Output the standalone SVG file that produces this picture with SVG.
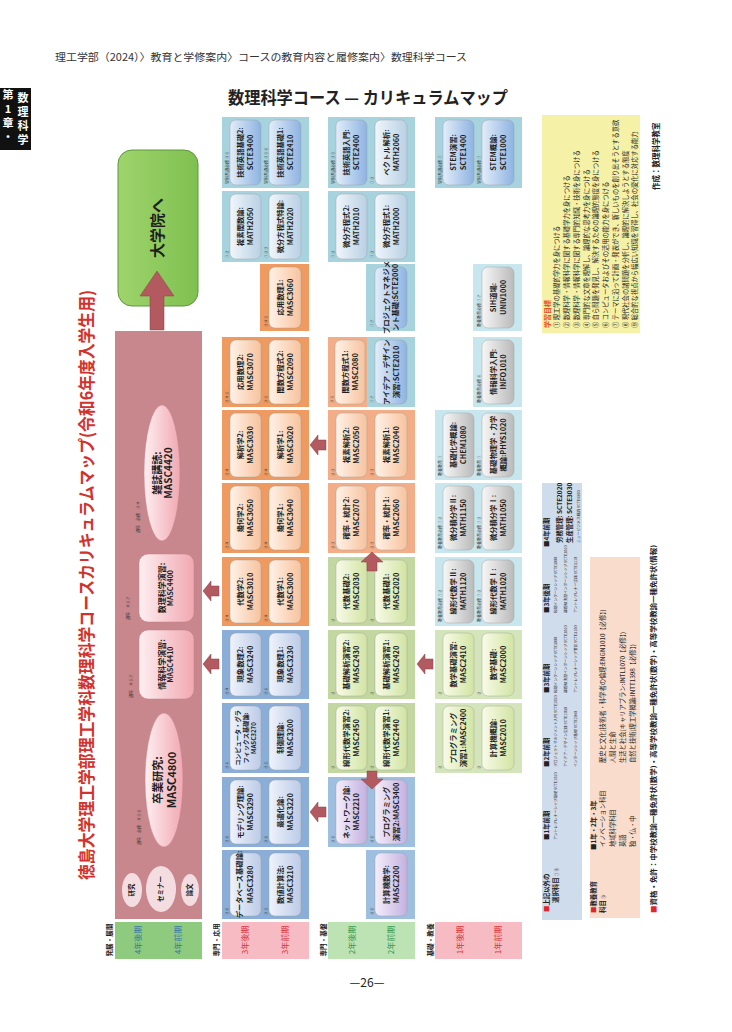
<svg xmlns="http://www.w3.org/2000/svg" width="732" height="1032" viewBox="0 0 732 1032">
<defs>
<linearGradient id="gOr" x1="0" y1="0" x2="1" y2="0"><stop offset="0" stop-color="#fff2e8"/><stop offset="1" stop-color="#f7c39e"/></linearGradient>
<linearGradient id="gBl" x1="0" y1="0" x2="1" y2="0"><stop offset="0" stop-color="#eff3fb"/><stop offset="1" stop-color="#bccbe7"/></linearGradient>
<linearGradient id="gSc" x1="0" y1="0" x2="1" y2="0"><stop offset="0" stop-color="#e2edf9"/><stop offset="1" stop-color="#8eb3e1"/></linearGradient>
<linearGradient id="gMa" x1="0" y1="0" x2="1" y2="0"><stop offset="0" stop-color="#f0f6fb"/><stop offset="1" stop-color="#b9d0e4"/></linearGradient>
<linearGradient id="gGy" x1="0" y1="0" x2="1" y2="0"><stop offset="0" stop-color="#f7f7f7"/><stop offset="1" stop-color="#bababa"/></linearGradient>
<linearGradient id="gGr" x1="0" y1="0" x2="1" y2="0"><stop offset="0" stop-color="#f8fbe8"/><stop offset="1" stop-color="#d2e4a3"/></linearGradient>
<linearGradient id="gPu" x1="0" y1="0" x2="1" y2="0"><stop offset="0" stop-color="#f4eefb"/><stop offset="1" stop-color="#c4b1df"/></linearGradient>
<linearGradient id="gPk" x1="0" y1="0" x2="1" y2="0"><stop offset="0" stop-color="#fdeff1"/><stop offset="1" stop-color="#f1a8b1"/></linearGradient>
<linearGradient id="gGo" x1="0" y1="0" x2="1" y2="0"><stop offset="0" stop-color="#9fd46c"/><stop offset="1" stop-color="#7fc050"/></linearGradient>
</defs>
<style>
text{font-family:'Noto Sans CJK JP','Noto Sans',sans-serif}
.t{font-size:7.3px;font-weight:700;fill:#1e1e1e;text-anchor:middle}
.t6{font-size:6.2px;font-weight:700;fill:#1e1e1e;text-anchor:middle}
.lb{font-size:4px;fill:#333}
.ib{stroke:#9a9a9a;stroke-width:0.4}
.or{fill:#ef9a60}.or2{fill:#f3ae88}.bl{fill:#8aaed7}.bl2{fill:#9fbfe1}
.lbg{fill:#a7d3df}.lc{fill:#c8e6ee}.gr{fill:#c3d8a1}.gr1{fill:#d4e5bc}
.arr{fill:#b25a60;stroke:#8e3f45;stroke-width:0.5}
.per{font-size:8px;text-anchor:middle}
.cat{font-size:6.6px;font-weight:700;fill:#222;text-anchor:middle}
.lg{font-size:6.4px;font-weight:700;fill:#222}
.lt{font-size:3.8px;fill:#333}
.ob{font-size:6.3px;fill:#222}
</style>
<rect width="732" height="1032" fill="#ffffff"/>

<!-- page header -->
<text x="55" y="61" font-size="10.5" fill="#333" textLength="412" lengthAdjust="spacingAndGlyphs">理工学部（2024）〉教育と学修案内〉コースの教育内容と履修案内〉数理科学コース</text>
<g id="sidebar">
<rect x="0" y="88" width="31" height="62" fill="#111"/>
<g font-size="11" font-weight="700" fill="#fff" text-anchor="middle">
<text x="8" y="99">第</text><text x="8" y="113">1</text><text x="8" y="127">章</text><text x="8" y="141">・</text>
<text x="23" y="102">数</text><text x="23" y="116">理</text><text x="23" y="130">科</text><text x="23" y="144">学</text>
</g>
</g>
<text x="228" y="104" font-size="17" font-weight="700" fill="#222" textLength="280" lengthAdjust="spacingAndGlyphs">数理科学コース — カリキュラムマップ</text>
<text transform="translate(93,880) rotate(-90)" font-size="17" font-weight="700" fill="#d2322d" textLength="590" lengthAdjust="spacingAndGlyphs">徳島大学理工学部理工学科数理科学コースカリキュラムマップ(令和6年度入学生用)</text>

<!-- group backgrounds -->
<g id="backgrounds">
<rect x="115" y="331" width="87" height="588" fill="#c8878c"/>
<rect class="lbg" x="222" y="117" width="87" height="71"/>
<rect class="lbg" x="222" y="191" width="87" height="71"/>
<rect class="or" x="260" y="264" width="49" height="67"/>
<rect class="or" x="222" y="337" width="87" height="70"/>
<rect class="or" x="222" y="410" width="87" height="70"/>
<rect class="or" x="222" y="483" width="87" height="70"/>
<rect class="or" x="222" y="557" width="87" height="69"/>
<rect class="bl" x="222" y="630" width="87" height="69"/>
<rect class="bl" x="222" y="703" width="87" height="70"/>
<rect class="bl" x="222" y="777" width="87" height="70"/>
<rect class="bl" x="222" y="850" width="87" height="69"/>
<rect class="lbg" x="328" y="117" width="87" height="71"/>
<rect class="lbg" x="328" y="191" width="87" height="71"/>
<rect class="lbg" x="366" y="264" width="49" height="67"/>
<rect class="or2" x="328" y="337" width="39" height="70"/>
<rect class="lbg" x="367" y="337" width="48" height="70"/>
<rect class="or2" x="328" y="410" width="87" height="70"/>
<rect class="or2" x="328" y="483" width="87" height="70"/>
<rect class="gr" x="328" y="557" width="87" height="69"/>
<rect class="gr" x="328" y="630" width="87" height="69"/>
<rect class="gr" x="328" y="703" width="87" height="70"/>
<rect class="bl2" x="328" y="777" width="87" height="70"/>
<rect class="bl2" x="366" y="850" width="49" height="69"/>
<rect class="lbg" x="435" y="117" width="87" height="71"/>
<rect class="lc" x="473" y="264" width="49" height="67"/>
<rect class="lc" x="473" y="337" width="49" height="70"/>
<rect class="lc" x="435" y="410" width="87" height="70"/>
<rect class="lc" x="435" y="483" width="87" height="70"/>
<rect class="lc" x="435" y="557" width="87" height="69"/>
<rect class="gr1" x="435" y="630" width="87" height="69"/>
<rect class="gr1" x="435" y="703" width="87" height="70"/>
</g>

<!-- period row -->
<g id="periods">
<rect x="115" y="922" width="87" height="37" fill="#8fcb7f"/>
<rect x="222" y="922" width="87" height="37" fill="#f7bcc3"/>
<rect x="328" y="922" width="87" height="37" fill="#bde2b3"/>
<rect x="435" y="922" width="87" height="37" fill="#f7bcc3"/>
<text class="cat" transform="translate(111.5,940) rotate(-90)">発展・展開</text>
<text class="cat" transform="translate(218.5,940) rotate(-90)">専門・応用</text>
<text class="cat" transform="translate(325.5,940) rotate(-90)">専門・基盤</text>
<text class="cat" transform="translate(432.5,940) rotate(-90)">基礎・教養</text>
<text class="per" fill="#3a7aa6" transform="translate(141,940) rotate(-90)">4年後期</text>
<text class="per" fill="#3a7aa6" transform="translate(181,940) rotate(-90)">4年前期</text>
<text class="per" fill="#d8343a" transform="translate(248,940) rotate(-90)">3年後期</text>
<text class="per" fill="#d8343a" transform="translate(288,940) rotate(-90)">3年前期</text>
<text class="per" fill="#3c9a50" transform="translate(355,940) rotate(-90)">2年後期</text>
<text class="per" fill="#3c9a50" transform="translate(394,940) rotate(-90)">2年前期</text>
<text class="per" fill="#d8343a" transform="translate(463,940) rotate(-90)">1年後期</text>
<text class="per" fill="#d8343a" transform="translate(501,940) rotate(-90)">1年前期</text>
</g>

<!-- 4th year -->
<g id="n-grad">
<rect x="118" y="150" width="80" height="156" rx="14" fill="url(#gGo)" stroke="#5f9640" stroke-width="1"/>
<text transform="translate(163,228) rotate(-90)" font-size="15" font-weight="700" fill="#1e1e1e" text-anchor="middle">大学院へ</text>
</g>
<g id="n-masc4420">
<ellipse cx="162" cy="473" rx="18" ry="68" fill="url(#gPk)" stroke="#c77d86" stroke-width="0.5"/>
<text transform="translate(160.5,473) rotate(-90)" font-size="10" font-weight="700" fill="#1e1e1e" text-anchor="middle">雑誌講読:</text>
<text transform="translate(172,473) rotate(-90)" font-size="10" font-weight="700" fill="#1e1e1e" text-anchor="middle">MASC4420</text>
<text class="lb" font-size="4.5" transform="translate(140,533) rotate(-90)">通年　必修　③④</text>
</g>
<g id="n-masc4400">
<rect x="139" y="554" width="55" height="68" rx="9" fill="url(#gPk)" stroke="#c77d86" stroke-width="0.5"/>
<text transform="translate(164.8,588) rotate(-90)" font-size="8" font-weight="700" fill="#1e1e1e" text-anchor="middle">数理科学演習:</text>
<text transform="translate(173,588) rotate(-90)" font-size="7" font-weight="700" fill="#1e1e1e" text-anchor="middle">MASC4400</text>
<text class="lb" font-size="4.5" transform="translate(130,620) rotate(-90)">通年　④⑤⑦</text>
</g>
<g id="n-masc4410">
<rect x="139" y="630" width="55" height="69" rx="9" fill="url(#gPk)" stroke="#c77d86" stroke-width="0.5"/>
<text transform="translate(164.8,664.5) rotate(-90)" font-size="8" font-weight="700" fill="#1e1e1e" text-anchor="middle">情報科学演習:</text>
<text transform="translate(173,664.5) rotate(-90)" font-size="7" font-weight="700" fill="#1e1e1e" text-anchor="middle">MASC4410</text>
<text class="lb" font-size="4.5" transform="translate(133,698) rotate(-90)">通年　④⑤⑦</text>
</g>
<g id="n-masc4800">
<ellipse cx="164" cy="780" rx="19" ry="67" fill="url(#gPk)" stroke="#c77d86" stroke-width="0.5"/>
<text transform="translate(162,780) rotate(-90)" font-size="11" font-weight="700" fill="#1e1e1e" text-anchor="middle">卒業研究:</text>
<text transform="translate(176,780) rotate(-90)" font-size="11" font-weight="700" fill="#1e1e1e" text-anchor="middle">MASC4800</text>
<text class="lb" font-size="4.5" transform="translate(141,845) rotate(-90)">通年　必修　④⑤⑧</text>
</g>
<g id="n-kenkyu">
<ellipse cx="132" cy="890" rx="10" ry="17" fill="#f3dde1"/>
<text transform="translate(134.3,890) rotate(-90)" font-size="6.5" font-weight="700" fill="#222" text-anchor="middle">研究</text>
</g>
<g id="n-seminar">
<ellipse cx="161" cy="889" rx="15" ry="23" fill="#f3dde1"/>
<text transform="translate(163.3,889) rotate(-90)" font-size="6.5" font-weight="700" fill="#222" text-anchor="middle">セミナー</text>
</g>
<g id="n-ronbun">
<ellipse cx="190" cy="890" rx="9" ry="16" fill="#f3dde1"/>
<text transform="translate(192.3,890) rotate(-90)" font-size="6.5" font-weight="700" fill="#222" text-anchor="middle">論文</text>
</g>

<!-- 3rd year -->
<g id="n-scte3400"><rect class="ib" x="230" y="120" width="31" height="65" rx="6" fill="url(#gSc)"/><text class="t" transform="translate(243.1,152.5) rotate(-90)">技術英語基礎2:</text><text class="t" transform="translate(253.1,152.5) rotate(-90)">SCTE3400</text><text class="lb" transform="translate(228.5,184) rotate(-90)">学科共通必修 ③⑤</text></g>
<g id="n-scte2410"><rect class="ib" x="269" y="120" width="32" height="65" rx="6" fill="url(#gSc)"/><text class="t" transform="translate(282.6,152.5) rotate(-90)">技術英語基礎1:</text><text class="t" transform="translate(292.6,152.5) rotate(-90)">SCTE2410</text><text class="lb" transform="translate(267.5,184) rotate(-90)">学科共通必修 ③⑤⑥</text></g>
<g id="n-math2050"><rect class="ib" x="230" y="194" width="31" height="65" rx="6" fill="url(#gMa)"/><text class="t" transform="translate(243.1,226.5) rotate(-90)">複素関数論:</text><text class="t" transform="translate(253.1,226.5) rotate(-90)">MATH2050</text><text class="lb" transform="translate(228.5,258) rotate(-90)">①②</text></g>
<g id="n-math2020"><rect class="ib" x="269" y="194" width="32" height="65" rx="6" fill="url(#gMa)"/><text class="t" transform="translate(282.6,226.5) rotate(-90)">微分方程式特論:</text><text class="t" transform="translate(292.6,226.5) rotate(-90)">MATH2020</text><text class="lb" transform="translate(267.5,258) rotate(-90)">①②③</text></g>
<g id="n-masc3060"><rect class="ib" x="269" y="267" width="32" height="61" rx="6" fill="url(#gOr)"/><text class="t" transform="translate(282.6,297.5) rotate(-90)">応用数理1:</text><text class="t" transform="translate(292.6,297.5) rotate(-90)">MASC3060</text><text class="lb" transform="translate(267.5,327) rotate(-90)">③④⑤</text></g>
<g id="n-masc3070"><rect class="ib" x="230" y="340" width="31" height="64" rx="6" fill="url(#gOr)"/><text class="t" transform="translate(243.1,372) rotate(-90)">応用数理2:</text><text class="t" transform="translate(253.1,372) rotate(-90)">MASC3070</text><text class="lb" transform="translate(228.5,403) rotate(-90)">③④⑤</text></g>
<g id="n-masc2090"><rect class="ib" x="269" y="340" width="32" height="64" rx="6" fill="url(#gOr)"/><text class="t" transform="translate(282.6,372) rotate(-90)">関数方程式2:</text><text class="t" transform="translate(292.6,372) rotate(-90)">MASC2090</text><text class="lb" transform="translate(267.5,403) rotate(-90)">③⑤</text></g>
<g id="n-masc3030"><rect class="ib" x="230" y="413" width="31" height="64" rx="6" fill="url(#gOr)"/><text class="t" transform="translate(243.1,445) rotate(-90)">解析学2:</text><text class="t" transform="translate(253.1,445) rotate(-90)">MASC3030</text><text class="lb" transform="translate(228.5,476) rotate(-90)">③④</text></g>
<g id="n-masc3020"><rect class="ib" x="269" y="413" width="32" height="64" rx="6" fill="url(#gOr)"/><text class="t" transform="translate(282.6,445) rotate(-90)">解析学1:</text><text class="t" transform="translate(292.6,445) rotate(-90)">MASC3020</text><text class="lb" transform="translate(267.5,476) rotate(-90)">③④</text></g>
<g id="n-masc3050"><rect class="ib" x="230" y="486" width="31" height="64" rx="6" fill="url(#gOr)"/><text class="t" transform="translate(243.1,518) rotate(-90)">幾何学2:</text><text class="t" transform="translate(253.1,518) rotate(-90)">MASC3050</text><text class="lb" transform="translate(228.5,549) rotate(-90)">③④</text></g>
<g id="n-masc3040"><rect class="ib" x="269" y="486" width="32" height="64" rx="6" fill="url(#gOr)"/><text class="t" transform="translate(282.6,518) rotate(-90)">幾何学1:</text><text class="t" transform="translate(292.6,518) rotate(-90)">MASC3040</text><text class="lb" transform="translate(267.5,549) rotate(-90)">③④</text></g>
<g id="n-masc3010"><rect class="ib" x="230" y="560" width="31" height="63" rx="6" fill="url(#gOr)"/><text class="t" transform="translate(243.1,591.5) rotate(-90)">代数学2:</text><text class="t" transform="translate(253.1,591.5) rotate(-90)">MASC3010</text><text class="lb" transform="translate(228.5,622) rotate(-90)">③④</text></g>
<g id="n-masc3000"><rect class="ib" x="269" y="560" width="32" height="63" rx="6" fill="url(#gOr)"/><text class="t" transform="translate(282.6,591.5) rotate(-90)">代数学1:</text><text class="t" transform="translate(292.6,591.5) rotate(-90)">MASC3000</text><text class="lb" transform="translate(267.5,622) rotate(-90)">③④</text></g>
<g id="n-masc3240"><rect class="ib" x="230" y="633" width="31" height="63" rx="6" fill="url(#gBl)"/><text class="t" transform="translate(243.1,664.5) rotate(-90)">現象数理2:</text><text class="t" transform="translate(253.1,664.5) rotate(-90)">MASC3240</text><text class="lb" transform="translate(228.5,695) rotate(-90)">③④</text></g>
<g id="n-masc3230"><rect class="ib" x="269" y="633" width="32" height="63" rx="6" fill="url(#gBl)"/><text class="t" transform="translate(282.6,664.5) rotate(-90)">現象数理1:</text><text class="t" transform="translate(292.6,664.5) rotate(-90)">MASC3230</text><text class="lb" transform="translate(267.5,695) rotate(-90)">③⑥</text></g>
<g id="n-masc3270"><rect class="ib" x="230" y="706" width="31" height="64" rx="6" fill="url(#gBl)"/><text class="t6" transform="translate(239.7,738) rotate(-90)">コンピュータ・グラ</text><text class="t6" transform="translate(247.7,738) rotate(-90)">フィックス基礎論:</text><text class="t6" transform="translate(255.7,738) rotate(-90)">MASC3270</text><text class="lb" transform="translate(228.5,769) rotate(-90)">③⑥</text></g>
<g id="n-masc3200"><rect class="ib" x="269" y="706" width="32" height="64" rx="6" fill="url(#gBl)"/><text class="t" transform="translate(282.6,738) rotate(-90)">制御理論:</text><text class="t" transform="translate(292.6,738) rotate(-90)">MASC3200</text><text class="lb" transform="translate(267.5,769) rotate(-90)">③⑤</text></g>
<g id="n-masc3290"><rect class="ib" x="230" y="780" width="31" height="64" rx="6" fill="url(#gBl)"/><text class="t" transform="translate(243.1,812) rotate(-90)">モデリング理論:</text><text class="t" transform="translate(253.1,812) rotate(-90)">MASC3290</text><text class="lb" transform="translate(228.5,843) rotate(-90)">③⑥</text></g>
<g id="n-masc3220"><rect class="ib" x="269" y="780" width="32" height="64" rx="6" fill="url(#gBl)"/><text class="t" transform="translate(282.6,812) rotate(-90)">最適化論:</text><text class="t" transform="translate(292.6,812) rotate(-90)">MASC3220</text><text class="lb" transform="translate(267.5,843) rotate(-90)">③⑥</text></g>
<g id="n-masc3280"><rect class="ib" x="230" y="853" width="31" height="63" rx="6" fill="url(#gBl)"/><text class="t" font-size="5.7px" transform="translate(242.4,884.5) rotate(-90)">データベース基礎論:</text><text class="t" transform="translate(253.1,884.5) rotate(-90)">MASC3280</text><text class="lb" transform="translate(228.5,915) rotate(-90)">③⑥</text></g>
<g id="n-masc3210"><rect class="ib" x="269" y="853" width="32" height="63" rx="6" fill="url(#gBl)"/><text class="t" transform="translate(282.6,884.5) rotate(-90)">数値計算法:</text><text class="t" transform="translate(292.6,884.5) rotate(-90)">MASC3210</text><text class="lb" transform="translate(267.5,915) rotate(-90)">③⑤</text></g>

<!-- 2nd year -->
<g id="n-scte2400"><rect class="ib" x="336" y="120" width="31" height="65" rx="6" fill="url(#gSc)"/><text class="t" transform="translate(349.1,152.5) rotate(-90)">技術英語入門:</text><text class="t" transform="translate(359.1,152.5) rotate(-90)">SCTE2400</text><text class="lb" transform="translate(334.5,184) rotate(-90)">学科共通必修 ③⑤</text></g>
<g id="n-math2060"><rect class="ib" x="375" y="120" width="32" height="65" rx="6" fill="url(#gMa)"/><text class="t" transform="translate(388.6,152.5) rotate(-90)">ベクトル解析:</text><text class="t" transform="translate(398.6,152.5) rotate(-90)">MATH2060</text><text class="lb" transform="translate(373.5,184) rotate(-90)">①②</text></g>
<g id="n-math2010"><rect class="ib" x="336" y="194" width="31" height="65" rx="6" fill="url(#gMa)"/><text class="t" transform="translate(349.1,226.5) rotate(-90)">微分方程式2:</text><text class="t" transform="translate(359.1,226.5) rotate(-90)">MATH2010</text><text class="lb" transform="translate(334.5,258) rotate(-90)">①②</text></g>
<g id="n-math2000"><rect class="ib" x="375" y="194" width="32" height="65" rx="6" fill="url(#gMa)"/><text class="t" transform="translate(388.6,226.5) rotate(-90)">微分方程式1:</text><text class="t" transform="translate(398.6,226.5) rotate(-90)">MATH2000</text><text class="lb" transform="translate(373.5,258) rotate(-90)">①②</text></g>
<g id="n-scte2000"><rect class="ib" x="375" y="267" width="32" height="61" rx="6" fill="url(#gSc)"/><text class="t" font-size="5.3px" transform="translate(388.9,297.5) rotate(-90)">プロジェクトマネジメ</text><text class="t" font-size="5.3px" transform="translate(398.4,297.5) rotate(-90)">ント基礎:SCTE2000</text><text class="lb" transform="translate(373.5,327) rotate(-90)">①⑦</text></g>
<g id="n-masc2080"><rect class="ib" x="335" y="340" width="30" height="64" rx="6" fill="url(#gOr)"/><text class="t" transform="translate(347.6,372) rotate(-90)">関数方程式1:</text><text class="t" transform="translate(357.6,372) rotate(-90)">MASC2080</text><text class="lb" transform="translate(333.5,403) rotate(-90)">③⑤</text></g>
<g id="n-scte2010"><rect class="ib" x="375" y="340" width="32" height="64" rx="6" fill="url(#gSc)"/><text class="t" font-size="6.1px" transform="translate(388.8,372) rotate(-90)">アイデア・デザイン</text><text class="t" font-size="6.1px" transform="translate(398.6,372) rotate(-90)">演習:SCTE2010</text><text class="lb" transform="translate(373.5,403) rotate(-90)">①⑦</text></g>
<g id="n-masc2050"><rect class="ib" x="336" y="413" width="31" height="64" rx="6" fill="url(#gOr)"/><text class="t" transform="translate(349.1,445) rotate(-90)">複素解析2:</text><text class="t" transform="translate(359.1,445) rotate(-90)">MASC2050</text><text class="lb" transform="translate(334.5,476) rotate(-90)">②③</text></g>
<g id="n-masc2040"><rect class="ib" x="375" y="413" width="32" height="64" rx="6" fill="url(#gOr)"/><text class="t" transform="translate(388.6,445) rotate(-90)">複素解析1:</text><text class="t" transform="translate(398.6,445) rotate(-90)">MASC2040</text><text class="lb" transform="translate(373.5,476) rotate(-90)">②③</text></g>
<g id="n-masc2070"><rect class="ib" x="336" y="486" width="31" height="64" rx="6" fill="url(#gOr)"/><text class="t" transform="translate(349.1,518) rotate(-90)">確率・統計2:</text><text class="t" transform="translate(359.1,518) rotate(-90)">MASC2070</text><text class="lb" transform="translate(334.5,549) rotate(-90)">②③</text></g>
<g id="n-masc2060"><rect class="ib" x="375" y="486" width="32" height="64" rx="6" fill="url(#gOr)"/><text class="t" transform="translate(388.6,518) rotate(-90)">確率・統計1:</text><text class="t" transform="translate(398.6,518) rotate(-90)">MASC2060</text><text class="lb" transform="translate(373.5,549) rotate(-90)">②③</text></g>
<g id="n-masc2030"><rect class="ib" x="336" y="560" width="31" height="63" rx="6" fill="url(#gGr)"/><text class="t" transform="translate(349.1,591.5) rotate(-90)">代数基礎2:</text><text class="t" transform="translate(359.1,591.5) rotate(-90)">MASC2030</text><text class="lb" transform="translate(334.5,622) rotate(-90)">②</text></g>
<g id="n-masc2020"><rect class="ib" x="375" y="560" width="32" height="63" rx="6" fill="url(#gGr)"/><text class="t" transform="translate(388.6,591.5) rotate(-90)">代数基礎1:</text><text class="t" transform="translate(398.6,591.5) rotate(-90)">MASC2020</text><text class="lb" transform="translate(373.5,622) rotate(-90)">②</text></g>
<g id="n-masc2430"><rect class="ib" x="336" y="633" width="31" height="63" rx="6" fill="url(#gGr)"/><text class="t" transform="translate(349.1,664.5) rotate(-90)">基礎解析演習2:</text><text class="t" transform="translate(359.1,664.5) rotate(-90)">MASC2430</text><text class="lb" transform="translate(334.5,695) rotate(-90)">②</text></g>
<g id="n-masc2420"><rect class="ib" x="375" y="633" width="32" height="63" rx="6" fill="url(#gGr)"/><text class="t" transform="translate(388.6,664.5) rotate(-90)">基礎解析演習1:</text><text class="t" transform="translate(398.6,664.5) rotate(-90)">MASC2420</text><text class="lb" transform="translate(373.5,695) rotate(-90)">②</text></g>
<g id="n-masc2450"><rect class="ib" x="336" y="706" width="31" height="64" rx="6" fill="url(#gGr)"/><text class="t" font-size="6.8px" transform="translate(349,738) rotate(-90)">線形代数学演習2:</text><text class="t" transform="translate(359.1,738) rotate(-90)">MASC2450</text><text class="lb" transform="translate(334.5,769) rotate(-90)">②</text></g>
<g id="n-masc2440"><rect class="ib" x="375" y="706" width="32" height="64" rx="6" fill="url(#gGr)"/><text class="t" font-size="6.8px" transform="translate(388.5,738) rotate(-90)">線形代数学演習1:</text><text class="t" transform="translate(398.6,738) rotate(-90)">MASC2440</text><text class="lb" transform="translate(373.5,769) rotate(-90)">②</text></g>
<g id="n-masc2210"><rect class="ib" x="336" y="780" width="31" height="64" rx="6" fill="url(#gPu)"/><text class="t" transform="translate(349.1,812) rotate(-90)">ネットワーク論:</text><text class="t" transform="translate(359.1,812) rotate(-90)">MASC2210</text><text class="lb" transform="translate(334.5,843) rotate(-90)">②⑥</text></g>
<g id="n-masc3400"><rect class="ib" x="375" y="780" width="32" height="64" rx="6" fill="url(#gPu)"/><text class="t" font-size="7px" transform="translate(388.6,812) rotate(-90)">プログラミング</text><text class="t" font-size="7px" transform="translate(398.6,812) rotate(-90)">演習2:MASC3400</text><text class="lb" transform="translate(373.5,843) rotate(-90)">②⑥</text></g>
<g id="n-masc2200"><rect class="ib" x="375" y="853" width="32" height="63" rx="6" fill="url(#gPu)"/><text class="t" transform="translate(388.6,884.5) rotate(-90)">計算機数学:</text><text class="t" transform="translate(398.6,884.5) rotate(-90)">MASC2200</text><text class="lb" transform="translate(373.5,915) rotate(-90)">②⑥</text></g>

<!-- 1st year -->
<g id="n-scte1400"><rect class="ib" x="443" y="120" width="31" height="65" rx="6" fill="url(#gSc)"/><text class="t" transform="translate(456.1,152.5) rotate(-90)">STEM演習:</text><text class="t" transform="translate(466.1,152.5) rotate(-90)">SCTE1400</text><text class="lb" transform="translate(441.5,184) rotate(-90)">学科共通必修 ①</text></g>
<g id="n-scte1000"><rect class="ib" x="482" y="120" width="32" height="65" rx="6" fill="url(#gSc)"/><text class="t" transform="translate(495.6,152.5) rotate(-90)">STEM概論:</text><text class="t" transform="translate(505.6,152.5) rotate(-90)">SCTE1000</text><text class="lb" transform="translate(480.5,184) rotate(-90)">学科共通必修 ①</text></g>
<g id="n-univ1000"><rect class="ib" x="482" y="267" width="32" height="61" rx="6" fill="url(#gGy)"/><text class="t" transform="translate(495.6,297.5) rotate(-90)">SIH道場:</text><text class="t" transform="translate(505.6,297.5) rotate(-90)">UNIV1000</text><text class="lb" transform="translate(480.5,327) rotate(-90)">教養教育必修 ①⑦</text></g>
<g id="n-info1010"><rect class="ib" x="482" y="340" width="32" height="64" rx="6" fill="url(#gGy)"/><text class="t" transform="translate(495.6,372) rotate(-90)">情報科学入門:</text><text class="t" transform="translate(505.6,372) rotate(-90)">INFO1010</text><text class="lb" transform="translate(480.5,403) rotate(-90)">教養教育必修 ⑥</text></g>
<g id="n-chem1080"><rect class="ib" x="443" y="413" width="31" height="64" rx="6" fill="url(#gGy)"/><text class="t" transform="translate(456.1,445) rotate(-90)">基礎化学概論:</text><text class="t" transform="translate(466.1,445) rotate(-90)">CHEM1080</text><text class="lb" transform="translate(441.5,476) rotate(-90)">教養教育 ①</text></g>
<g id="n-phys1020"><rect class="ib" x="482" y="413" width="32" height="64" rx="6" fill="url(#gGy)"/><text class="t" font-size="6.8px" transform="translate(495.6,445) rotate(-90)">基礎物理学・力学</text><text class="t" font-size="6.8px" transform="translate(505.6,445) rotate(-90)">概論:PHYS1020</text><text class="lb" transform="translate(480.5,476) rotate(-90)">教養教育 ①</text></g>
<g id="n-math1150"><rect class="ib" x="443" y="486" width="31" height="64" rx="6" fill="url(#gGy)"/><text class="t" transform="translate(456.1,518) rotate(-90)">微分積分学Ⅱ:</text><text class="t" transform="translate(466.1,518) rotate(-90)">MATH1150</text><text class="lb" transform="translate(441.5,549) rotate(-90)">教養教育必修 ①②</text></g>
<g id="n-math1050"><rect class="ib" x="482" y="486" width="32" height="64" rx="6" fill="url(#gGy)"/><text class="t" transform="translate(495.6,518) rotate(-90)">微分積分学Ⅰ:</text><text class="t" transform="translate(505.6,518) rotate(-90)">MATH1050</text><text class="lb" transform="translate(480.5,549) rotate(-90)">教養教育必修 ①②</text></g>
<g id="n-math1120"><rect class="ib" x="443" y="560" width="31" height="63" rx="6" fill="url(#gGy)"/><text class="t" transform="translate(456.1,591.5) rotate(-90)">線形代数学Ⅱ:</text><text class="t" transform="translate(466.1,591.5) rotate(-90)">MATH1120</text><text class="lb" transform="translate(441.5,622) rotate(-90)">教養教育必修 ①②</text></g>
<g id="n-math1020"><rect class="ib" x="482" y="560" width="32" height="63" rx="6" fill="url(#gGy)"/><text class="t" transform="translate(495.6,591.5) rotate(-90)">線形代数学Ⅰ:</text><text class="t" transform="translate(505.6,591.5) rotate(-90)">MATH1020</text><text class="lb" transform="translate(480.5,622) rotate(-90)">教養教育必修 ①②</text></g>
<g id="n-masc2410"><rect class="ib" x="443" y="633" width="31" height="63" rx="6" fill="url(#gGr)"/><text class="t" transform="translate(456.1,664.5) rotate(-90)">数学基礎演習:</text><text class="t" transform="translate(466.1,664.5) rotate(-90)">MASC2410</text><text class="lb" transform="translate(441.5,695) rotate(-90)">②</text></g>
<g id="n-masc2000"><rect class="ib" x="482" y="633" width="32" height="63" rx="6" fill="url(#gGr)"/><text class="t" transform="translate(495.6,664.5) rotate(-90)">数学基礎:</text><text class="t" transform="translate(505.6,664.5) rotate(-90)">MASC2000</text><text class="lb" transform="translate(480.5,695) rotate(-90)">②</text></g>
<g id="n-masc2400"><rect class="ib" x="443" y="706" width="31" height="64" rx="6" fill="url(#gGr)"/><text class="t" font-size="7px" transform="translate(456.1,738) rotate(-90)">プログラミング</text><text class="t" font-size="7px" transform="translate(466.1,738) rotate(-90)">演習1:MASC2400</text><text class="lb" transform="translate(441.5,769) rotate(-90)">②</text></g>
<g id="n-masc2010"><rect class="ib" x="482" y="706" width="32" height="64" rx="6" fill="url(#gGr)"/><text class="t" transform="translate(495.6,738) rotate(-90)">計算機概論:</text><text class="t" transform="translate(505.6,738) rotate(-90)">MASC2010</text><text class="lb" transform="translate(480.5,769) rotate(-90)">②</text></g>

<!-- connectors -->
<g id="connectors">
<polygon class="arr" points="157,271 174,296 164,296 164,330 150,330 150,296 140,296"/>
<polygon class="arr" points="203,591 211,581 211,586 219,586 219,596 211,596 211,601"/>
<polygon class="arr" points="203,664 211,654 211,659 219,659 219,669 211,669 211,674"/>
<polygon class="arr" points="310,445 318,435 318,440 326,440 326,450 318,450 318,455"/>
<polygon class="arr" points="310,812 318,802 318,807 326,807 326,817 318,817 318,822"/>
<polygon class="arr" points="417,664 425,654 425,659 433,659 433,669 425,669 425,674"/>
<polygon class="arr" points="372,552 383,562 377,562 377,571 367,571 367,562 361,562"/>
<polygon class="arr" points="372,789 383,779 377,779 377,771 367,771 367,779 361,779"/>
</g>

<!-- learning objectives -->
<g id="objectives">
<rect x="542" y="115" width="98" height="218" fill="#f5f1a6"/>
<text transform="translate(550,328) rotate(-90)" font-size="7" font-weight="700" fill="#e8501e">学習目標</text>
<text class="ob" transform="translate(559.2,328) rotate(-90)">① 理工学の基礎的学力を身につける</text>
<text class="ob" transform="translate(569,328) rotate(-90)">② 数理科学・情報科学に関する基礎学力を身につける</text>
<text class="ob" transform="translate(578.7,328) rotate(-90)">③ 数理科学・情報科学に関する専門的知識・技術を身につける</text>
<text class="ob" transform="translate(588.5,328) rotate(-90)">④ 専門的な文章を理解し、論理的な思考力を身につける</text>
<text class="ob" transform="translate(598.2,328) rotate(-90)">⑤ 自ら問題を発見し、解決するための論理的態度を身につける</text>
<text class="ob" transform="translate(608,328) rotate(-90)">⑥ コンピュータおよびその活用の能力を身につける</text>
<text class="ob" transform="translate(617.7,328) rotate(-90)">⑦ テーマに沿って計画・発表ができ、新しいものを創り出そうとする意欲</text>
<text class="ob" transform="translate(627.5,328) rotate(-90)">⑧ 現代社会の諸問題を分析し、論理的に解決しようとする態度</text>
<text class="ob" transform="translate(637.2,328) rotate(-90)">⑨ 総合的な視点から幅広い知識を習得し、社会の変化に対応する能力</text>
</g>
<text transform="translate(659,190) rotate(-90)" font-size="7.5" font-weight="700" fill="#222">作成：数理科学教室</text>

<!-- legend: electives -->
<g id="legend-electives">
<rect x="542" y="483" width="40" height="437" fill="#cfdcec"/>
<text class="lg" transform="translate(548.5,912) rotate(-90)"><tspan fill="#e0262b">■</tspan>上記以外の</text>
<text class="lg" transform="translate(558,903) rotate(-90)">選択科目 <tspan font-size="4.5" font-weight="400">①⑥</tspan></text>
<text class="lg" transform="translate(548.5,840) rotate(-90)">■1年前期</text>
<text class="lt" transform="translate(557,840) rotate(-90)">アントレプレナーシップ基礎 SCTE1010</text>
<text class="lg" transform="translate(548.5,767) rotate(-90)">■2年前期</text>
<text class="lt" transform="translate(557,767) rotate(-90)">プロジェクトマネジメント入門 SCTE2020</text>
<text class="lt" transform="translate(567,767) rotate(-90)">アイデア・デザイン実践 SCTE2030</text>
<text class="lt" transform="translate(577,767) rotate(-90)">インターンシップ基礎 SCTE2040</text>
<text class="lg" transform="translate(548.5,693) rotate(-90)">■3年前期</text>
<text class="lt" transform="translate(557,693) rotate(-90)">短期インターンシップ SCTE3000</text>
<text class="lt" transform="translate(567,693) rotate(-90)">課題解決型インターンシップ SCTE3010</text>
<text class="lt" transform="translate(577,693) rotate(-90)">アントレプレナーシップ演習 SCTE3100</text>
<text class="lg" transform="translate(548.5,613) rotate(-90)">■3年後期</text>
<text class="lt" transform="translate(557,613) rotate(-90)">短期インターンシップ SCTE3000</text>
<text class="lt" transform="translate(567,613) rotate(-90)">課題解決型インターンシップ SCTE3010</text>
<text class="lt" transform="translate(577,613) rotate(-90)">アントレプレナー実践 SCTE3110</text>
<text class="lg" transform="translate(548.5,547) rotate(-90)">■4年前期</text>
<text class="lg" font-size="5.6" transform="translate(561.5,543) rotate(-90)">労務管理: SCTE2020</text>
<text class="lg" font-size="5.6" transform="translate(571.5,543) rotate(-90)">生産管理: SCTE3030</text>
<text class="lt" transform="translate(579.5,543) rotate(-90)">ニュービジネス概論 SCTE4800</text>
</g>

<!-- legend: liberal arts -->
<g id="legend-liberal">
<rect x="590" y="557" width="50" height="361" fill="#f9dccb"/>
<text class="lg" transform="translate(596,913) rotate(-90)"><tspan fill="#e0262b">■</tspan>教養教育</text>
<text class="lg" transform="translate(605,913) rotate(-90)">科目 <tspan font-size="4.5" font-weight="400">⑨</tspan></text>
<text class="lg" transform="translate(596,850) rotate(-90)">■1年・2年・3年</text>
<g font-size="6.3" fill="#222">
<text transform="translate(604.5,847) rotate(-90)">イノベーション科目</text>
<text transform="translate(614.5,847) rotate(-90)">地域科学科目</text>
<text transform="translate(624.5,847) rotate(-90)">英語</text>
<text transform="translate(634.5,847) rotate(-90)">独・仏・中</text>
<text transform="translate(604.5,763) rotate(-90)">歴史と文化(技術者・科学者の倫理:ENGN1010【必修】)</text>
<text transform="translate(614.5,763) rotate(-90)">人間と生命</text>
<text transform="translate(624.5,763) rotate(-90)">生活と社会(キャリアプラン:INTL1070【必修】)</text>
<text transform="translate(634.5,763) rotate(-90)">自然と技術(理工学概論:INTT1398【必修】)</text>
</g>
</g>
<text transform="translate(656,913) rotate(-90)" font-size="7" font-weight="700" fill="#222" textLength="368" lengthAdjust="spacingAndGlyphs"><tspan fill="#e0262b">■</tspan>資格・免許：中学校教諭一種免許状(数学)・高等学校教諭一種免許状(数学)・高等学校教諭一種免許状(情報)</text>

<text x="367" y="987" font-family="'Liberation Serif',serif" font-size="12" fill="#222" text-anchor="middle">—26—</text>
</svg>
